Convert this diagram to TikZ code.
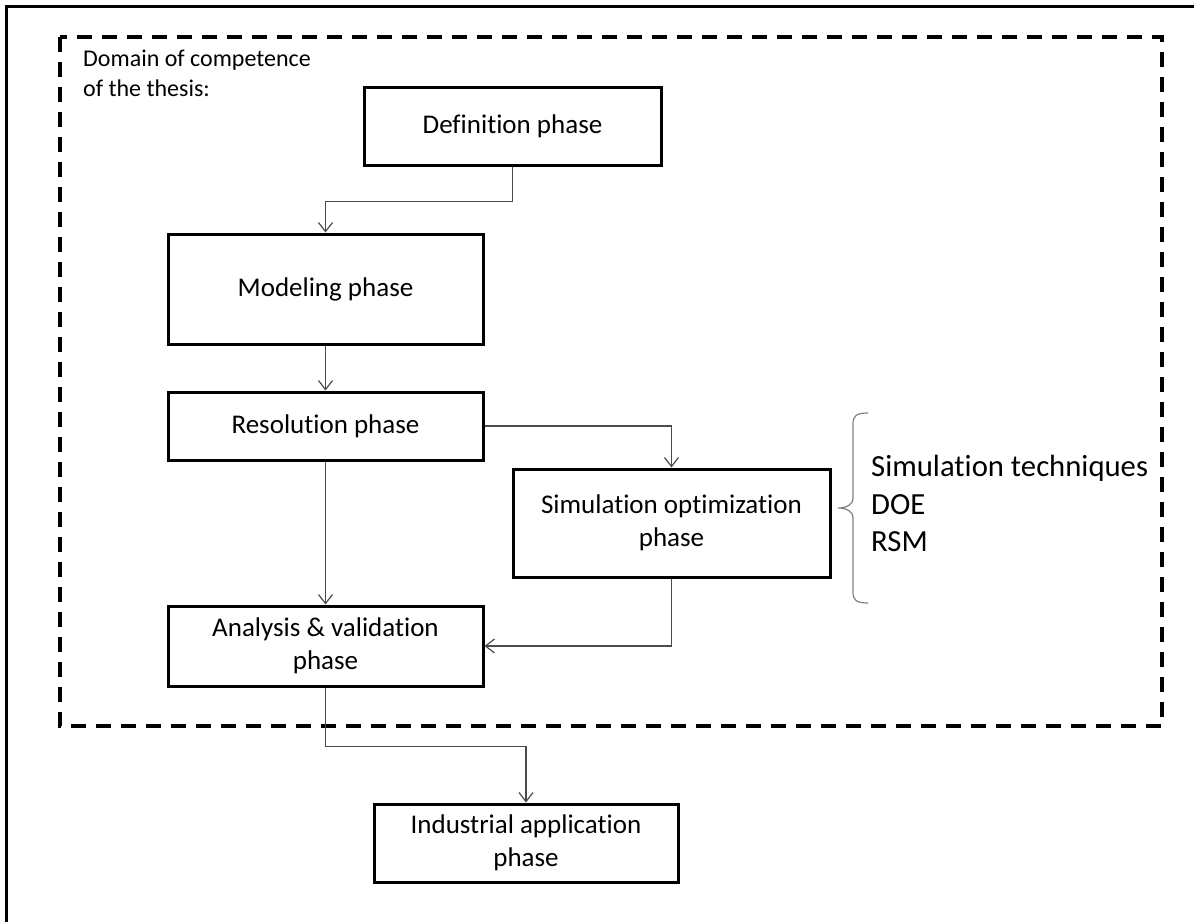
\documentclass[tikz,border=0pt]{standalone}
\usepackage{fontspec}
\setmainfont{Carlito}[Ligatures={NoCommon}]
\usetikzlibrary{arrows.meta}
\begin{document}
\begin{tikzpicture}[x=1pt,y=-1pt,
  phase/.style={draw=black, line width=3pt, inner sep=0pt, align=center,
    font=\fontsize{27}{33}\selectfont},
  conn/.style={draw=black!70, line width=1.2pt,
    -{Straight Barb[length=9pt,width=14pt,line width=1.2pt]}},
  frame/.style={draw=black, line width=3pt},
  domainbox/.style={draw=black, line width=3.5pt, dash pattern=on 15pt off 10pt},
  bracestyle/.style={draw=black!50, line width=1.2pt},
  plain/.style={inner sep=0pt, align=left, anchor=north west},
]
\useasboundingbox (0,0) rectangle (1194,922);

% outer frame (top and left edges visible)
\draw[frame] (6,922) -- (6,6) -- (1194,6);

% domain of competence
\draw[domainbox] (60,37) rectangle (1162,726);
\node[plain, font=\fontsize{24}{30}\selectfont] (dom) at (83,50)
  {Domain of competence\\of the thesis:};

% phases
\node[phase, minimum width=297pt, minimum height=78pt] (def) at (512.5,126) {Definition phase};
\node[phase, minimum width=315pt, minimum height=110pt] (mod) at (325.5,289) {Modeling phase};
\node[phase, minimum width=315pt, minimum height=68pt] (res) at (325.5,426) {Resolution phase};
\node[phase, minimum width=317pt, minimum height=108pt] (sim) at (671.5,523) {Simulation optimization\\phase};
\node[phase, minimum width=315pt, minimum height=80pt] (ana) at (325.5,646) {Analysis \& validation\\phase};
\node[phase, minimum width=304pt, minimum height=78pt] (ind) at (526,843) {Industrial application\\phase};

% connectors
\draw[conn] (def.south) -- ++(0,35) -| (mod.north);
\draw[conn] (mod.south) -- (res.north);
\draw[conn] (res.south) -- (ana.north);
\draw[conn] (res.east) -| (sim.north);
\draw[conn] (sim.south) |- (ana.east);
\draw[conn] (ana.south) -- ++(0,59) -| (ind.north);

% brace
\coordinate (bt) at (868,413);
\coordinate (bm) at (838,508);
\coordinate (bb) at (868,603);
\draw[bracestyle] (bt) .. controls (856,413) and (853,416) .. (853,424)
  -- (853,498) .. controls (853,505) and (846,508) .. (bm)
  .. controls (846,508) and (853,511) .. (853,518)
  -- (853,592) .. controls (853,600) and (856,603) .. (bb);

\node[plain, font=\fontsize{30.7}{37.5}\selectfont] (tech) at (871,455)
  {Simulation techniques\\DOE\\RSM};
\end{tikzpicture}
\end{document}
